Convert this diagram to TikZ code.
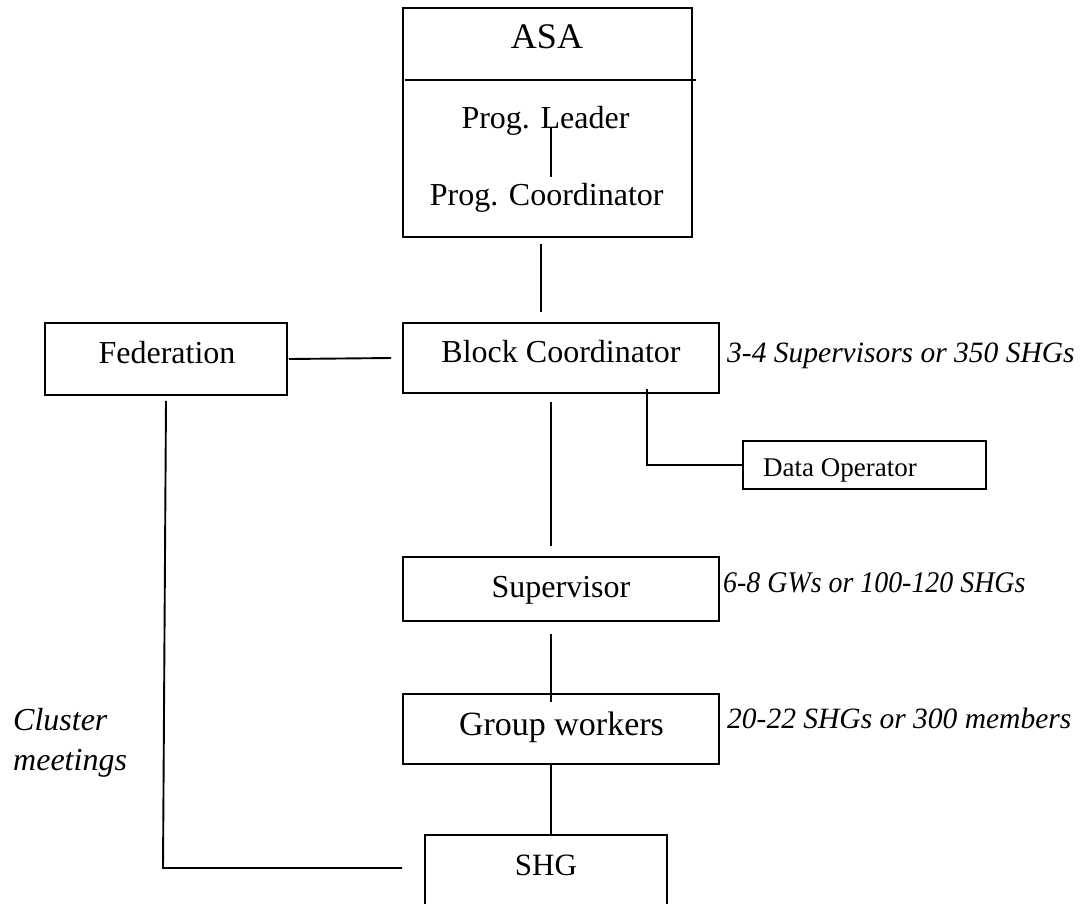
\documentclass[tikz,border=0pt]{standalone}
\usepackage{fontspec}
\setmainfont{Liberation Serif}
\begin{document}
\begin{tikzpicture}[x=1pt,y=-1pt,
  box/.style={draw,line width=1.9pt,rectangle,inner sep=0pt,minimum width=#1},
  txt/.style={inner sep=0pt,anchor=base,font=\fontsize{32pt}{38pt}\selectfont},
  note/.style={inner sep=0pt,anchor=base west,font=\fontsize{30pt}{36pt}\selectfont\itshape},
  conn/.style={line width=1.9pt}]
\useasboundingbox (0,0) rectangle (1084,903);
\fill[white] (0,0) rectangle (1084,903);
\clip (0,0) rectangle (1084,903);

% boxes
\node[box=289pt,minimum height=229pt] (asa) at (547.5,122.5) {};
\node[box=242pt,minimum height=72pt] (fed) at (166,359) {};
\node[box=316pt,minimum height=70pt] (block) at (561,358) {};
\node[box=243pt,minimum height=48pt] (dataop) at (864.5,465) {};
\node[box=316pt,minimum height=64pt] (sup) at (561,589) {};
\node[box=316pt,minimum height=70pt] (group) at (561,729) {};
\node[box=242pt,minimum height=80pt] (shg) at (546,875) {};

% divider inside ASA
\draw[conn] ([xshift=3pt,yshift=-73pt]asa.north west) -- ([xshift=3pt,yshift=-73pt]asa.north east);

% texts
\node[txt,font=\fontsize{36pt}{42pt}\selectfont] (asat) at (547,48) {ASA};
\node[txt] (leader) at (545.5,128) {Prog. Leader};
\node[txt] (pcoord) at (546.7,205) {Prog. Coordinator};
\node[txt] (fedt) at (167,363) {Federation};
\node[txt] (blockt) at (561,362.5) {Block Coordinator};
\node[txt] (supt) at (561,597) {Supervisor};
\node[txt,font=\fontsize{34pt}{40pt}\selectfont] (groupt) at (561.5,735) {Group workers};
\node[txt,font=\fontsize{31pt}{37pt}\selectfont] (shgt) at (546,875) {SHG};
\node[inner sep=0pt,anchor=base west,font=\fontsize{27pt}{32pt}\selectfont] (dataopt) at (763,476) {Data Operator};

\node[note,font=\fontsize{29.5pt}{36pt}\selectfont\itshape] (n1) at (727,362) {3-4 Supervisors or 350 SHGs};
\node[note] (n2) at (723,592) {\scalebox{0.93}[1]{6-8 GWs or 100-120 SHGs}};
\node[note,font=\fontsize{29.5pt}{36pt}\selectfont\itshape] (n3) at (727,728) {20-22 SHGs or 300 members};
\node[note,font=\fontsize{32pt}{38pt}\selectfont\itshape] (cl1) at (13,730) {Cluster};
\node[note,font=\fontsize{32pt}{38pt}\selectfont\itshape] (cl2) at (13,770) {meetings};

% connectors
\draw[conn] ([xshift=5.5pt]leader.base) -- ([xshift=4.3pt,yshift=6pt]pcoord.north);
\draw[conn] ([xshift=-6.5pt,yshift=-6pt]asa.south) -- ([xshift=-20pt,yshift=10pt]block.north);
\draw[conn] ([xshift=1pt]fed.east) -- ([xshift=-11pt]block.west);
\draw[conn] ([xshift=-10pt,yshift=-8pt]block.south) -- ([xshift=-10pt,yshift=10pt]sup.north);
\draw[conn] ([xshift=86pt,yshift=5pt]block.south) |- (dataop.west);
\draw[conn] ([xshift=-10pt,yshift=-12pt]sup.south) -- ([xshift=-10pt,yshift=-9pt]group.north);
\draw[conn] ([xshift=-10pt]group.south) -- ([xshift=5pt]shg.north);
\coordinate (fedcorner) at (163,868);
\draw[conn] ([yshift=-5pt]fed.south) -- (fedcorner) -- ([xshift=-22pt]shg.west |- fedcorner);
\end{tikzpicture}
\end{document}
